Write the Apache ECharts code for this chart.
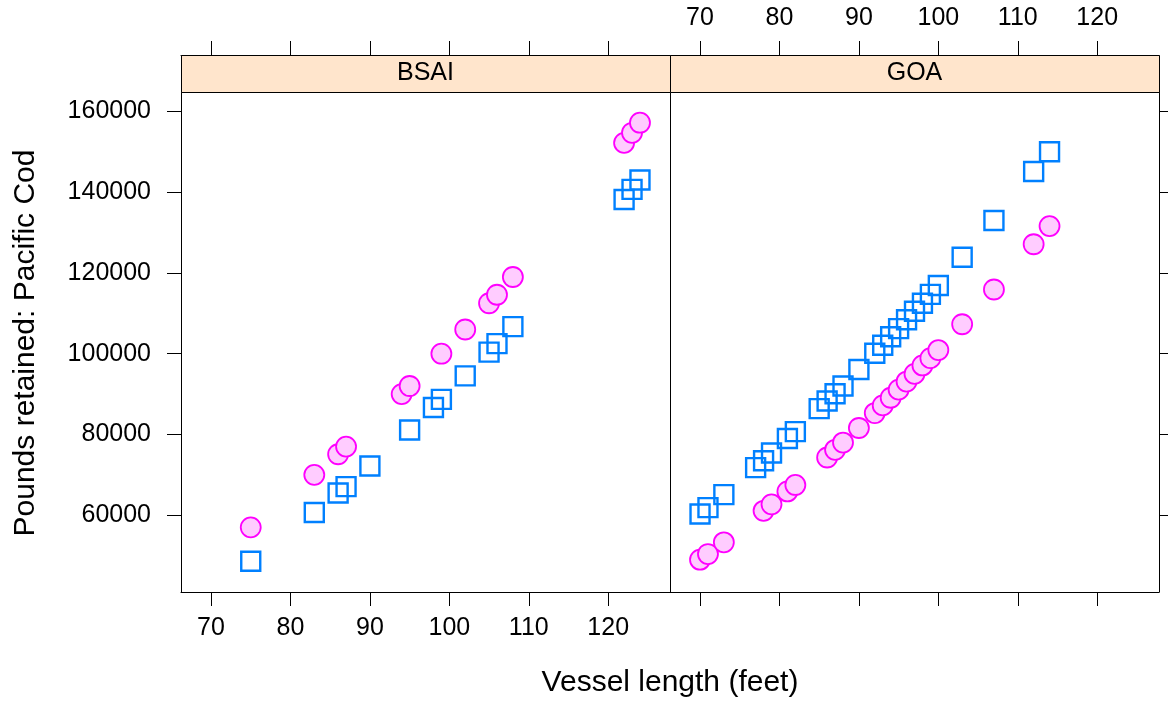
<!DOCTYPE html>
<html>
<head>
<meta charset="utf-8">
<script src="https://cdn.jsdelivr.net/npm/echarts@6/dist/echarts.min.js"></script>
<style>
html,body{margin:0;padding:0;background:#fff;}
#chart{width:1168px;height:705px;}
</style>
</head>
<body>
<div id="chart"></div>
<script>
// ---- data ----
const panels = ["BSAI", "GOA"];
const xTicks = [70, 80, 90, 100, 110, 120];
const yTicks = [60000, 80000, 100000, 120000, 140000, 160000];

const bsaiSquareLen = [75, 83, 86, 87, 90, 95, 98, 99, 102, 105, 106, 108, 122, 123, 124];
const bsaiSquareLbs = [48600, 60700, 65500, 67100, 72200, 81100, 86700, 88700, 94500, 100400, 102500, 106700, 138200, 140700, 143000];
const bsaiCircleLen = [75, 83, 86, 87, 94, 95, 99, 102, 105, 106, 108, 122, 123, 124];
const bsaiCircleLbs = [57000, 70000, 75100, 77000, 90000, 92000, 100000, 106000, 112500, 114600, 119000, 152200, 154700, 157200];

const goaSquareLen = [70, 71, 73, 77, 78, 79, 81, 82, 85, 86, 87, 88, 90, 92, 93, 94, 95, 96, 97, 98, 99, 100, 103, 107, 112, 114];
const goaSquareLbs = [60300, 61900, 65100, 71800, 73500, 75400, 79000, 80700, 86400, 88300, 90100, 92000, 96100, 100100, 102100, 104200, 106200, 108400, 110500, 112500, 114700, 116900, 123900, 133000, 145100, 150000];
const goaCircleLen = [70, 71, 73, 78, 79, 81, 82, 86, 87, 88, 90, 92, 93, 94, 95, 96, 97, 98, 99, 100, 103, 107, 112, 114];
const goaCircleLbs = [49000, 50400, 53300, 61100, 62700, 65900, 67500, 74300, 76200, 78000, 81600, 85300, 87200, 89100, 91100, 93100, 95000, 97100, 98900, 100900, 107300, 115900, 127100, 131600];

const xTitle = "Vessel length (feet)";
const yTitle = "Pounds retained: Pacific Cod";

// ---- helpers ----
const FONT = '"Liberation Sans", Arial, Helvetica, sans-serif';
const zip = (a, b) => a.map((v, i) => [v, b[i]]);
const allX = [].concat(bsaiSquareLen, bsaiCircleLen, goaSquareLen, goaCircleLen);
const allY = [].concat(bsaiSquareLbs, bsaiCircleLbs, goaSquareLbs, goaCircleLbs);
const pad = (lo, hi) => { const d = (hi - lo) * 0.07; return [lo - d, hi + d]; };
const [xMin, xMax] = pad(Math.min(...allX), Math.max(...allX));
const [yMin, yMax] = pad(Math.min(...allY), Math.max(...allY));

const G = { top: 92, height: 500, left: [181, 670], width: 489 };
const STRIP = 37;

const axisLine = { show: true, lineStyle: { color: '#000', width: 1 } };
const plain = v => String(v);

const grids = [], xAxes = [], yAxes = [], series = [];
[0, 1].forEach(i => {
  grids.push({ left: G.left[i], top: G.top, width: G.width, height: G.height, outerBoundsMode: 'none', containLabel: false, show: false });
  // bottom x
  xAxes.push({
    type: 'value', gridIndex: i, position: 'bottom', min: xMin, max: xMax,
    axisLine, splitLine: { show: false },
    axisTick: { show: true, length: 14, customValues: xTicks, lineStyle: { color: '#000' } },
    axisLabel: { show: i === 0, customValues: xTicks, formatter: plain, margin: 24, color: '#000', fontSize: 25, fontFamily: FONT }
  });
  // top x (above strip)
  xAxes.push({
    type: 'value', gridIndex: i, position: 'top', offset: STRIP, min: xMin, max: xMax,
    axisLine, splitLine: { show: false },
    axisTick: { show: true, length: 14, customValues: xTicks, lineStyle: { color: '#000' } },
    axisLabel: { show: i === 1, customValues: xTicks, formatter: plain, margin: 24, color: '#000', fontSize: 25, fontFamily: FONT }
  });
  // left y
  yAxes.push({
    type: 'value', gridIndex: i, position: 'left', min: yMin, max: yMax,
    axisLine, splitLine: { show: false },
    axisTick: { show: i === 0, length: 14, customValues: yTicks, lineStyle: { color: '#000' } },
    axisLabel: { show: i === 0, customValues: yTicks, formatter: plain, margin: 30, color: '#000', fontSize: 25, fontFamily: FONT }
  });
  // right y
  yAxes.push({
    type: 'value', gridIndex: i, position: 'right', min: yMin, max: yMax,
    axisLine, splitLine: { show: false },
    axisTick: { show: i === 1, length: 14, customValues: yTicks, lineStyle: { color: '#000' } },
    axisLabel: { show: false }
  });
});

const panelData = [
  { sq: zip(bsaiSquareLen, bsaiSquareLbs), ci: zip(bsaiCircleLen, bsaiCircleLbs) },
  { sq: zip(goaSquareLen, goaSquareLbs), ci: zip(goaCircleLen, goaCircleLbs) }
];
panelData.forEach((p, i) => {
  series.push({
    type: 'scatter', name: 'Group 1', xAxisIndex: i * 2, yAxisIndex: i * 2,
    data: p.sq, symbol: 'rect', symbolSize: 19,
    itemStyle: { color: 'rgba(0,0,0,0)', borderColor: '#0080ff', borderWidth: 2.4, opacity: 1 },
    emphasis: { disabled: true }, silent: true, animation: false, z: 3
  });
  series.push({
    type: 'scatter', name: 'Group 2', xAxisIndex: i * 2, yAxisIndex: i * 2,
    data: p.ci, symbol: 'circle', symbolSize: 20,
    itemStyle: { color: '#ffccff', borderColor: '#ff00ff', borderWidth: 1.8, opacity: 1 },
    emphasis: { disabled: true }, silent: true, animation: false, z: 4
  });
});

const graphics = [];
panels.forEach((name, i) => {
  graphics.push({
    type: 'rect', left: G.left[i], top: G.top - STRIP, z: 10,
    shape: { width: G.width, height: STRIP },
    style: { fill: '#ffe5cc', stroke: '#000', lineWidth: 1 }
  });
  graphics.push({
    type: 'text', z: 11,
    x: G.left[i] + G.width / 2, y: G.top - STRIP / 2,
    style: { text: name, fill: '#000', font: '25px ' + FONT, align: 'center', verticalAlign: 'middle' }
  });
});
graphics.push({
  type: 'text', x: 670, y: 683,
  style: { text: xTitle, fill: '#000', font: '30px ' + FONT, align: 'center', verticalAlign: 'middle' }
});
graphics.push({
  type: 'text', x: 26, y: 343, rotation: Math.PI / 2,
  style: { text: yTitle, fill: '#000', font: '30px ' + FONT, align: 'center', verticalAlign: 'middle' }
});

const chart = echarts.init(document.getElementById('chart'), null, { renderer: 'canvas' });
chart.setOption({
  backgroundColor: '#fff',
  animation: false,
  grid: grids,
  xAxis: xAxes,
  yAxis: yAxes,
  series: series,
  graphic: graphics
});
</script>
</body>
</html>
